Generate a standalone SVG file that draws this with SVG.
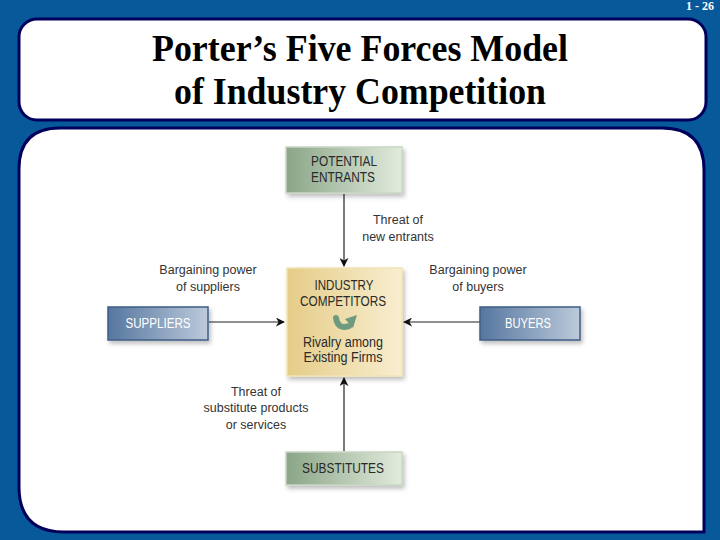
<svg xmlns="http://www.w3.org/2000/svg" width="720" height="540" viewBox="0 0 720 540">
<defs>
<linearGradient id="gGreen" x1="0" y1="0" x2="1" y2="0"><stop offset="0" stop-color="#8aa587"/><stop offset="1" stop-color="#e2ebdc"/></linearGradient>
<linearGradient id="gTan" x1="0" y1="0" x2="1" y2="0"><stop offset="0" stop-color="#e5cc88"/><stop offset="1" stop-color="#f8eed0"/></linearGradient>
<linearGradient id="gBlue" x1="0" y1="0" x2="1" y2="0"><stop offset="0" stop-color="#56769f"/><stop offset="1" stop-color="#bccadb"/></linearGradient>
<marker id="ah" viewBox="0 0 10 10" refX="9" refY="5" markerWidth="9" markerHeight="9" orient="auto" markerUnits="userSpaceOnUse"><path d="M0,0 L10,5 L0,10 L3,5 z" fill="#111"/></marker>
<filter id="sh" x="-10%" y="-10%" width="130%" height="140%"><feDropShadow dx="2" dy="3" stdDeviation="2" flood-color="#000" flood-opacity="0.25"/></filter>
</defs>
<style>
.lbl{font-family:"Liberation Sans",Arial,sans-serif;font-size:12.5px;fill:#333;text-anchor:middle}
.nt{font-family:"Liberation Sans",Arial,sans-serif;font-size:14px;text-anchor:middle}
.dk{fill:#2a2a2a}
.wt{fill:#ffffff}
.conn{stroke:#222;stroke-width:1.2;fill:none;marker-end:url(#ah)}
.frame{fill:#fff;stroke:#00005c;stroke-width:3}
.ttl{font-family:"Liberation Serif","Times New Roman",serif;font-weight:bold;font-size:38px;fill:#000;text-anchor:middle}
</style>
<rect x="0" y="0" width="720" height="540" fill="#07599a"/>
<text x="714" y="10" font-family="Liberation Serif,serif" font-weight="bold" font-size="12" fill="#fff" text-anchor="end">1 - 26</text>
<g id="title">
<rect class="frame" x="19" y="19" width="687" height="101" rx="18"/>
<text class="ttl" x="360" y="61" textLength="416" lengthAdjust="spacingAndGlyphs">Porter’s Five Forces Model</text>
<text class="ttl" x="360" y="104" textLength="372" lengthAdjust="spacingAndGlyphs">of Industry Competition</text>
</g>
<path class="frame" d="M60,128 L662,128 Q704,128 704,170 L704,532 L64,532 Q19,532 19,487 L19,169 Q19,128 60,128 z"/>
<g id="connectors">
<line class="conn" x1="344" y1="194" x2="344" y2="266"/>
<line class="conn" x1="209" y1="322" x2="284" y2="322"/>
<line class="conn" x1="480" y1="322" x2="404" y2="322"/>
<line class="conn" x1="344" y1="451" x2="344" y2="378"/>
</g>
<g id="entrants">
<rect x="286" y="147" width="116" height="46" fill="url(#gGreen)" stroke="#c9d6c4" stroke-width="1.5" filter="url(#sh)"/>
<text class="nt dk" x="344" y="166" textLength="66" lengthAdjust="spacingAndGlyphs">POTENTIAL</text>
<text class="nt dk" x="343" y="182" textLength="64" lengthAdjust="spacingAndGlyphs">ENTRANTS</text>
</g>
<g id="industry">
<rect x="287" y="268" width="115" height="108" fill="url(#gTan)" stroke="#f2e3b6" stroke-width="1.5" filter="url(#sh)"/>
<text class="nt dk" x="344" y="290" textLength="59" lengthAdjust="spacingAndGlyphs">INDUSTRY</text>
<text class="nt dk" x="343" y="306" textLength="86" lengthAdjust="spacingAndGlyphs">COMPETITORS</text>
<path d="M336,318 Q338,330 349,326" stroke="#6f9a7d" stroke-width="6" fill="none" stroke-linecap="round"/>
<path d="M345,319 L357,315 L353,328 z" fill="#6f9a7d"/>
<text class="nt dk" x="343" y="347" textLength="80" lengthAdjust="spacingAndGlyphs">Rivalry among</text>
<text class="nt dk" x="343" y="362" textLength="79" lengthAdjust="spacingAndGlyphs">Existing Firms</text>
</g>
<g id="suppliers">
<rect x="108" y="307" width="100" height="33" fill="url(#gBlue)" stroke="#3f5d85" stroke-width="1.5" filter="url(#sh)"/>
<text class="nt wt" x="158" y="328" textLength="65" lengthAdjust="spacingAndGlyphs">SUPPLIERS</text>
</g>
<g id="buyers">
<rect x="480" y="307" width="100" height="33" fill="url(#gBlue)" stroke="#3f5d85" stroke-width="1.5" filter="url(#sh)"/>
<text class="nt wt" x="528" y="328" textLength="46" lengthAdjust="spacingAndGlyphs">BUYERS</text>
</g>
<g id="substitutes">
<rect x="286" y="452" width="116" height="33" fill="url(#gGreen)" stroke="#c9d6c4" stroke-width="1.5" filter="url(#sh)"/>
<text class="nt dk" x="343" y="473" textLength="82" lengthAdjust="spacingAndGlyphs">SUBSTITUTES</text>
</g>
<g id="labels">
<text class="lbl" x="398" y="224">Threat of</text>
<text class="lbl" x="398" y="241">new entrants</text>
<text class="lbl" x="208" y="274">Bargaining power</text>
<text class="lbl" x="208" y="291">of suppliers</text>
<text class="lbl" x="478" y="274">Bargaining power</text>
<text class="lbl" x="478" y="291">of buyers</text>
<text class="lbl" x="256" y="396">Threat of</text>
<text class="lbl" x="256" y="412">substitute products</text>
<text class="lbl" x="256" y="429">or services</text>
</g>
</svg>
